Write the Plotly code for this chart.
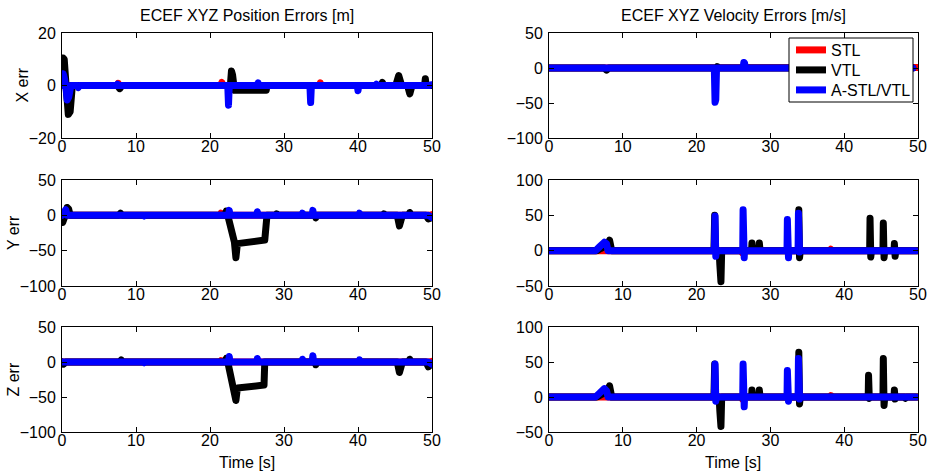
import plotly.graph_objects as go

W, H = 928, 472

# ---------------- ECEF X position error [m] ----------------
xpos_stl_t = [0, 7.5, 7.6, 7.7, 21.5, 21.6, 21.7, 34.8, 34.9, 35.0, 50]
xpos_stl_v = [0, 0, 0.8, 0, 0, 1.2, 0, 0, 1.0, 0, 0]
xpos_vtl_t = [0, 0.15, 0.3, 0.55, 0.85, 1.1, 1.4, 7.5, 7.8, 8.1, 16.0, 16.1, 16.2,
              22.75, 22.9, 23.05, 23.3, 27.6, 27.7, 43.2, 43.3, 43.4, 45.1, 45.5, 45.9,
              46.7, 47.0, 47.3, 49.0, 49.1, 49.2, 50]
xpos_vtl_v = [0, 10.5, 10, 0, -11, -10, 0, 0, -1.2, 0, 0, 0.6, 0,
              0, 5.5, 4, -1.8, -1.8, 0, 0, 1.2, 0, 0, 3.8, 0,
              0, -3.2, 0, 0, 2.6, 0, 0]
xpos_ast_t = [0, 0.15, 0.3, 0.5, 0.7, 0.9, 1.2, 2.1, 2.2, 2.3, 7.4, 7.5, 7.6,
              22.4, 22.5, 22.6, 26.4, 26.5, 26.6, 33.5, 33.6, 33.7, 39.9, 40.0, 40.1,
              42.4, 42.5, 42.6, 49.6, 49.8, 50]
xpos_ast_v = [0, 4.5, 3, 0, -5.5, -4.5, 0, 0, -0.8, 0, 0, 0.5, 0,
              0, -7.5, 0, 0, 1, 0, 0, -6.5, 0, 0, -2, 0,
              0, 0.5, 0, 0, 0.6, 0.3]

# ---------------- ECEF X velocity error [m/s] ----------------
xvel_stl_t = [0, 7.1, 7.2, 7.3, 49.6, 49.8, 50]
xvel_stl_v = [0, 0, 1.5, 0, 0, 0.8, 0.8]
xvel_vtl_t = [0, 7.5, 7.8, 8.1, 22.7, 22.8, 22.9, 49.3]
xvel_vtl_v = [0, 0, -3, 0, 0, 2, 0, 0]
xvel_ast_t = [0, 7.5, 7.7, 7.9, 22.4, 22.5, 22.6, 22.7, 26.3, 26.4, 26.5, 26.6,
              32.5, 32.6, 32.7, 49.3]
xvel_ast_v = [0, 0, -1, 0, 0, -49, -45, 0, 0, 8, 7, 0,
              0, 1, 0, 0]

# ---------------- ECEF Y position error [m] ----------------
ypos_stl_t = [0, 21.4, 21.5, 21.6, 49.6, 49.8, 50]
ypos_stl_v = [0, 0, 3, 0, 0, 1, 1]
ypos_vtl_t = [0, 0.1, 0.3, 0.5, 0.7, 0.9, 1.1, 7.7, 7.9, 8.1, 22.0, 22.2, 22.4,
              23.3, 23.5, 23.7, 27.4, 27.5, 27.7, 28.9, 29.0, 29.1, 34.2, 34.3, 34.4,
              43.4, 43.5, 43.6, 45.3, 45.6, 46.0, 46.9, 47.0, 47.1, 49.2, 49.5, 49.8, 50]
ypos_vtl_v = [0, -10, -4, 0, 11, 9, 0, 0, 3, 0, 0, 6, 0,
              -38, -60, -40, -35, 0, 0, 0, 2, 0, 0, -3.5, 0,
              0, 2, 0, 0, -15, 0, 0, 4, 0, 0, -5, -4, -3]
ypos_ast_t = [0, 0.3, 0.5, 0.7, 7.8, 7.9, 8.0, 11.0, 11.1, 11.2, 22.5, 22.6, 22.7,
              26.3, 26.4, 26.5, 32.4, 32.5, 32.6, 33.8, 33.9, 34.0, 40.1, 40.2, 40.3,
              42.9, 43.0, 43.1, 49.5, 49.8, 50]
ypos_ast_v = [0, 5, 8, 0, 0, 2, 0, 0, -1, 0, 0, 7, 0,
              0, 5, 0, 0, 3, 0, 0, 7, 0, 0, 3, 0,
              0, -1, 0, 0, -3, -3]

# ---------------- ECEF Y velocity error [m/s] ----------------
yvel_stl_t = [0, 8.1, 8.2, 8.3, 26.1, 26.2, 26.3, 38.1, 38.2, 38.3, 50]
yvel_stl_v = [0, 0, 5, 0, 0, -3, 0, 0, 2, 0, 0]
yvel_vtl_t = [0, 6.5, 7.0, 7.5, 7.9, 8.2, 8.5, 22.35, 22.45, 22.55, 22.65,
              23.05, 23.15, 23.3, 23.4, 27.45, 27.5, 27.6, 28.45, 28.5, 28.6,
              33.8, 33.85, 33.95, 34.05, 43.45, 43.5, 43.6, 43.7, 45.25, 45.3, 45.4, 45.5,
              46.75, 46.8, 46.9, 47.0, 50]
yvel_vtl_v = [0, 0, 3, 5, 8, 15, 0, 0, 50, 5, 0,
              0, -20, -44, 0, 0, 11, 0, 0, 11, 0,
              0, 58, -10, 0, 0, 46, -9, 0, 0, 39, -10, 0,
              0, 10, -8, 0, 0]
yvel_ast_t = [0, 6.3, 6.8, 7.2, 7.5, 7.8, 8.0, 22.4, 22.45, 22.5, 22.6, 22.7,
              26.25, 26.3, 26.35, 26.45, 26.5, 32.25, 32.3, 32.35, 32.45, 32.5,
              33.75, 33.8, 33.85, 33.95, 34.0, 49.7]
yvel_ast_v = [0, 0, 5, 10, 12, 10, 0, 0, 30, 49, -8, 0,
              0, 58, 40, -10, 0, 0, 44, 20, -10, 0,
              0, 53, 30, -2, 0, 0]

# ---------------- ECEF Z position error [m] ----------------
zpos_stl_t = [0, 11.2, 11.3, 11.4, 21.4, 21.5, 21.6, 49.6, 49.8, 50]
zpos_stl_v = [0, 0, -1.5, 0, 0, 2, 0, 0, 1, 1]
zpos_vtl_t = [0, 0.2, 0.5, 7.8, 8.0, 8.2, 22.0, 22.2, 22.4, 23.2, 23.5, 23.7,
              27.3, 27.4, 27.6, 28.9, 29.0, 29.1, 34.2, 34.3, 34.4,
              45.3, 45.6, 46.0, 46.9, 47.0, 47.1, 49.2, 49.5, 49.8, 50]
zpos_vtl_v = [0, -3, 0, 0, 3, 0, 0, 5, 0, -37, -55, -37,
              -33, 0, 0, 0, 1, 0, 0, -4, 0,
              0, -15, 0, 0, 4, 0, 0, -7, -4, -3]
zpos_ast_t = [0, 0.7, 0.8, 0.9, 7.8, 7.9, 8.0, 11.0, 11.1, 11.2, 22.5, 22.6, 22.7,
              26.3, 26.4, 26.5, 32.4, 32.5, 32.6, 33.8, 33.9, 34.0, 40.1, 40.2, 40.3,
              42.9, 43.0, 43.1, 49.5, 49.8, 50]
zpos_ast_v = [0, 0, 1, 0, 0, 2, 0, 0, -1, 0, 0, 8, 0,
              0, 5, 0, 0, 4, 0, 0, 9, 0, 0, 3, 0,
              0, -1, 0, 0, -3, -3]

# ---------------- ECEF Z velocity error [m/s] ----------------
zvel_stl_t = [0, 8.1, 8.2, 8.3, 26.1, 26.2, 26.3, 38.1, 38.2, 38.3, 50]
zvel_stl_v = [0, 0, 5, 0, 0, -3, 0, 0, 2, 0, 0]
zvel_vtl_t = [0, 6.5, 7.0, 7.5, 7.9, 8.2, 8.5, 22.35, 22.45, 22.55, 22.65,
              23.05, 23.15, 23.3, 23.4, 27.45, 27.5, 27.6, 28.45, 28.5, 28.6,
              33.8, 33.85, 33.95, 34.05, 43.25, 43.3, 43.4, 43.5, 45.25, 45.3, 45.4, 45.5,
              46.75, 46.8, 46.9, 47.0, 48.25, 48.3, 48.4, 50]
zvel_vtl_v = [0, 0, 3, 5, 8, 16, 0, 0, 47, 5, 0,
              0, -20, -42, 0, 0, 10, 0, 0, 10, 0,
              0, 64, -10, 0, 0, 31, -2, 0, 0, 55, -12, 0,
              0, 10, -3, 0, 0, -2, 0, 0]
zvel_ast_t = [0, 6.3, 6.8, 7.2, 7.5, 7.8, 8.0, 22.4, 22.45, 22.5, 22.6, 22.7,
              26.25, 26.3, 26.35, 26.45, 26.5, 32.25, 32.3, 32.35, 32.45, 32.5,
              33.75, 33.8, 33.85, 33.95, 34.0, 49.7]
zvel_ast_v = [0, 0, 5, 9, 12, 9, 0, 0, 30, 47, -6, 0,
              0, 47, 30, -14, 0, 0, 38, 20, -6, 0,
              0, 55, 30, -3, 0, 0]

series_names = ["STL", "VTL", "A-STL/VTL"]
series_colors = ["#ff0000", "#000000", "#0000ff"]

x_ticks = [0, 10, 20, 30, 40, 50]

# panel order: row-major, left column = position, right column = velocity
panels = [
    dict(data=[(xpos_stl_t, xpos_stl_v), (xpos_vtl_t, xpos_vtl_v), (xpos_ast_t, xpos_ast_v)],
         yrange=[-20, 20], yticks=[-20, 0, 20], ylabel="X err"),
    dict(data=[(xvel_stl_t, xvel_stl_v), (xvel_vtl_t, xvel_vtl_v), (xvel_ast_t, xvel_ast_v)],
         yrange=[-100, 50], yticks=[-100, -50, 0, 50], ylabel=None),
    dict(data=[(ypos_stl_t, ypos_stl_v), (ypos_vtl_t, ypos_vtl_v), (ypos_ast_t, ypos_ast_v)],
         yrange=[-100, 50], yticks=[-100, -50, 0, 50], ylabel="Y err"),
    dict(data=[(yvel_stl_t, yvel_stl_v), (yvel_vtl_t, yvel_vtl_v), (yvel_ast_t, yvel_ast_v)],
         yrange=[-50, 100], yticks=[-50, 0, 50, 100], ylabel=None),
    dict(data=[(zpos_stl_t, zpos_stl_v), (zpos_vtl_t, zpos_vtl_v), (zpos_ast_t, zpos_ast_v)],
         yrange=[-100, 50], yticks=[-100, -50, 0, 50], ylabel="Z err"),
    dict(data=[(zvel_stl_t, zvel_stl_v), (zvel_vtl_t, zvel_vtl_v), (zvel_ast_t, zvel_ast_v)],
         yrange=[-50, 100], yticks=[-50, 0, 50, 100], ylabel=None),
]

# axes placement in pixels (left, right) and (top, bottom)
col_px = [(62, 432), (549, 918)]
row_px = [(33, 138), (180, 286), (327, 432)]

FONT = "Liberation Sans, Arial, sans-serif"
FS = 16
fig = go.Figure()
annotations = []
layout_axes = {}
legend_ids = ["legend", "legend2", "legend3"]

for i, p in enumerate(panels):
    r, c = divmod(i, 2)
    n = i + 1
    xa = "x" if n == 1 else f"x{n}"
    ya = "y" if n == 1 else f"y{n}"
    for k, (t, v) in enumerate(p["data"]):
        fig.add_trace(go.Scatter(
            x=t, y=v, mode="lines", name=series_names[k],
            line=dict(color=series_colors[k], width=7),
            xaxis=xa, yaxis=ya, showlegend=(n == 2), legend=legend_ids[k],
        ))
    x0, x1 = col_px[c]
    y0, y1 = row_px[r]
    common = dict(showline=True, linecolor="#000000", linewidth=1, mirror="ticks",
                  ticks="inside", ticklen=5, tickwidth=1, tickcolor="#000000",
                  showgrid=False, zeroline=False, automargin=False,
                  tickfont=dict(family=FONT, size=FS, color="#000000"))
    layout_axes["xaxis" if n == 1 else f"xaxis{n}"] = dict(
        domain=[x0 / W, x1 / W], range=[0, 50], tickvals=x_ticks,
        anchor=ya, ticklabelstandoff=-6, **common)
    layout_axes["yaxis" if n == 1 else f"yaxis{n}"] = dict(
        domain=[1 - y1 / H, 1 - y0 / H], range=p["yrange"], tickvals=p["yticks"],
        anchor=xa, ticklabelstandoff=2, **common)
    if p["ylabel"]:
        annotations.append(dict(
            text=p["ylabel"], textangle=-90, xref="paper", yref="paper",
            x=(22 if r == 0 else 13) / W, y=1 - (y0 + y1) / 2 / H,
            xanchor="center", yanchor="middle", showarrow=False,
            font=dict(family=FONT, size=FS, color="#000000")))

titles = [("ECEF XYZ Position Errors [m]", 247), ("ECEF XYZ Velocity Errors [m/s]", 733)]
for text, cx in titles:
    annotations.append(dict(text=text, xref="paper", yref="paper", x=cx / W, y=1 - 15.5 / H,
                            xanchor="center", yanchor="middle", showarrow=False,
                            font=dict(family=FONT, size=FS, color="#000000")))
for cx in (247, 733):
    annotations.append(dict(text="Time [s]", xref="paper", yref="paper", x=cx / W, y=1 - 462 / H,
                            xanchor="center", yanchor="middle", showarrow=False,
                            font=dict(family=FONT, size=FS, color="#000000")))

# legend: white box with one entry per row
legend_box = dict(type="rect", xref="paper", yref="paper",
                  x0=789 / W, x1=913 / W, y0=1 - 102 / H, y1=1 - 38 / H,
                  fillcolor="white", line=dict(color="#000000", width=1), layer="above")
legend_layout = {}
for k, lid in enumerate(legend_ids):
    legend_layout[lid] = dict(
        x=791 / W, y=1 - (50 + 20 * k) / H, xanchor="left", yanchor="middle",
        bgcolor="rgba(0,0,0,0)", borderwidth=0, itemwidth=30,
        font=dict(family=FONT, size=FS, color="#000000"))

fig.update_layout(
    template="none",
    width=W, height=H, margin=dict(l=0, r=0, t=0, b=0, autoexpand=False),
    paper_bgcolor="white", plot_bgcolor="white",
    font=dict(family=FONT, size=FS, color="#000000"),
    annotations=annotations, shapes=[legend_box],
    **legend_layout,
    **layout_axes,
)

# rounded stroke ends on the data lines
rounded = ("var s=document.createElement('style');"
           "s.textContent='.scatterlayer .js-line{stroke-linejoin:round;stroke-linecap:round}';"
           "document.head.appendChild(s);")
fig.write_html("out.html", post_script=rounded)
